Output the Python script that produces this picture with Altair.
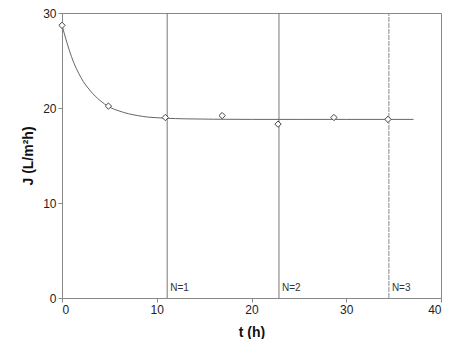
import altair as alt
import pandas as pd

# measured flux points
t_meas = [0.0, 4.9, 10.9, 16.9, 22.8, 28.7, 34.4]
J_meas = [28.7, 20.2, 19.0, 19.2, 18.3, 19.0, 18.8]

# fitted curve
t_fit = [0.0, 1, 2, 3, 4, 5, 6, 7, 8, 9, 10, 11, 13, 16, 20, 25, 30, 37.1]
J_fit = [28.7, 25.4, 23.2, 21.8, 20.8, 20.1, 19.7, 19.4, 19.2, 19.05, 18.98, 18.92,
         18.86, 18.82, 18.8, 18.8, 18.8, 18.8]

# cleaning cycles
t_cycle = [11.1, 22.9, 34.5]
cycle_labels = ["N=1", "N=2", "N=3"]
cycle_style = ["solid", "solid", "dashed"]

x_ticks = [0, 10, 20, 30, 40]
y_ticks = [0, 10, 20, 30]

meas = pd.DataFrame({"t": t_meas, "J": J_meas})
fit = pd.DataFrame({"t": t_fit, "J": J_fit})
cyc = pd.DataFrame({"t": t_cycle, "label": cycle_labels, "style": cycle_style, "y0": [0] * 3, "y1": [30] * 3})

font = "Liberation Sans"
xs = alt.Scale(domain=[0, 40], nice=False)
ys = alt.Scale(domain=[0, 30], nice=False)

x_enc = alt.X("t:Q", scale=xs, axis=alt.Axis(values=x_ticks, title="t (h)", grid=False,
                                            format="d", titlePadding=10))
y_enc = alt.Y("J:Q", scale=ys, axis=alt.Axis(values=y_ticks, title="J (L/m²h)", grid=False,
                                            format="d", titlePadding=7))

rules = alt.Chart(cyc).mark_rule(strokeWidth=1).encode(
    x=alt.X("t:Q", scale=xs),
    y=alt.Y("y0:Q", scale=ys),
    y2="y1:Q",
    color=alt.Color("style:N", scale=alt.Scale(domain=["solid", "dashed"],
                                               range=["#777777", "#8a8a8a"]), legend=None),
    strokeDash=alt.StrokeDash("style:N", scale=alt.Scale(domain=["solid", "dashed"],
                                                          range=[[1, 0], [5, 1]]), legend=None),
)

labels = alt.Chart(cyc).mark_text(align="left", baseline="bottom", dx=3, dy=-5,
                                  fontSize=10, font=font, color="#333333").encode(
    x=alt.X("t:Q", scale=xs),
    y=alt.Y("y0:Q", scale=ys),
    text="label:N",
)

curve = alt.Chart(fit).mark_line(color="#666666", strokeWidth=1, interpolate="monotone").encode(
    x=x_enc, y=y_enc
)

points = alt.Chart(meas).mark_point(shape="diamond", size=40, filled=False, color="#444444",
                                    strokeWidth=1, fill="white", fillOpacity=1).encode(
    x=alt.X("t:Q", scale=xs), y=alt.Y("J:Q", scale=ys)
)

chart = alt.layer(rules, curve, points, labels).properties(
    width=379, height=285,
    autosize=alt.AutoSizeParams(type="none"),
    padding={"left": 54, "top": 5, "right": 11, "bottom": 41},
).configure_view(
    stroke="#888888", strokeWidth=1
).configure_axis(
    domainColor="#888888", tickColor="#888888", tickSize=4, labelPadding=2,
    labelFont=font, labelFontSize=12, labelColor="#222222",
    titleFont=font, titleFontSize=14, titleFontWeight="bold", titleColor="#111111",
)

chart.save("out.html", embed_options={"renderer": "svg", "actions": False})
